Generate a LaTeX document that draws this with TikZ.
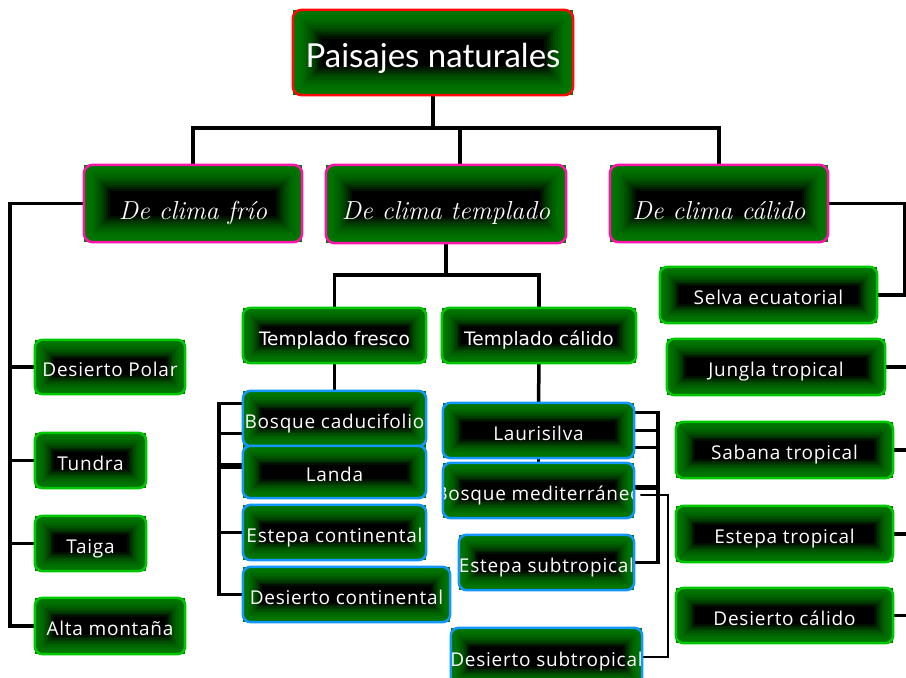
\documentclass[tikz,border=0pt]{standalone}
\usepackage{fontspec}
\usetikzlibrary{calc}
\pgfdeclarelayer{bg}
\pgfsetlayers{bg,main}
\newfontfamily\titlefont{Lato}
\newfontfamily\leaffont[LetterSpace=4.0]{Open Sans}
\newfontfamily\tempfont{DejaVu Sans}
\definecolor{bev}{RGB}{0,118,0}
\definecolor{redb}{RGB}{255,10,10}
\definecolor{pinkb}{RGB}{255,20,170}
\definecolor{greenb}{RGB}{0,200,0}
\definecolor{blueb}{RGB}{20,150,255}
\tikzset{
  glow/.style={path picture={
    \foreach \i in {0,...,13}{
      \pgfmathsetmacro\p{100*(1-(\i/13)^2)}
      \fill[bev!\p!black] ($(path picture bounding box.north west)+(\i*#1,-\i*#1)$)
        rectangle ($(path picture bounding box.south east)+(-\i*#1,\i*#1)$);
    }}},
  boxbase/.style={rectangle, inner sep=0pt, text=white, align=center},
  lvlzero/.style={boxbase, glow=2.2pt, font=\titlefont\fontsize{33}{38}\selectfont, text height=29pt, text depth=0pt},
  lvlone/.style={boxbase, glow=2pt, font=\rmfamily\itshape\fontsize{26}{30}\selectfont, text height=31pt, text depth=0pt},
  lvltwo/.style={boxbase, glow=1.45pt, font=\tempfont\fontsize{18.5}{22}\selectfont, text height=19pt, text depth=0pt},
  leafg/.style={boxbase, glow=1.45pt, font=\leaffont\fontsize{19}{22}\selectfont, text height=19pt, text depth=0pt},
  leafb/.style={boxbase, glow=1.45pt, font=\leaffont\fontsize{19}{22}\selectfont, text height=19pt, text depth=0pt},
  bordlvlzero/.style={draw=redb, line width=2.5pt, rounded corners=9pt},
  bordlvlone/.style={draw=pinkb, line width=2.5pt, rounded corners=9pt},
  bordlvltwo/.style={draw=greenb, line width=2.5pt, rounded corners=8pt},
  bordleafg/.style={draw=greenb, line width=2.5pt, rounded corners=8pt},
  bordleafb/.style={draw=blueb, line width=2.5pt, rounded corners=8pt},
  conn/.style={draw=black, line width=3.5pt},
  thickconn/.style={draw=black, line width=5.5pt},
}
\newcommand\mybx[7]{%
  \node[#2, minimum width={(#5-#3)*1pt}, minimum height={(#6-#4)*1pt}] (#1) at ({(#3+#5)/2},{(#4+#6)/2}) {\makebox[0pt]{#7}};
  \draw[bord#2] (#1.north west) rectangle (#1.south east);
}
\begin{document}
\begin{tikzpicture}[x=1pt,y=-1pt]
\useasboundingbox (0,0) rectangle (906,678);
\begin{pgfonlayer}{bg}
\fill[white] (0,0) rectangle (906,678);
\end{pgfonlayer}
\coordinate (lb) at (10,0);
\coordinate (fb) at (219,0);
\coordinate (mb) at (658,0);
\coordinate (mbb) at (668,0);
\coordinate (rb) at (905,0);
\coordinate (re) at (915,0);
% boxes
\mybx{title}{lvlzero}{293}{10}{573}{95}{Paisajes naturales}
\mybx{frio}{lvlone}{84}{165}{302}{242}{De clima frío}
\mybx{templ}{lvlone}{326}{165}{566}{243}{De clima templado}
\mybx{calido}{lvlone}{610}{165}{828}{242}{De clima cálido}
\mybx{fresco}{lvltwo}{243}{308}{426}{363}{Templado fresco}
\mybx{tcal}{lvltwo}{442}{308}{636}{363}{Templado cálido}
\mybx{dpolar}{leafg}{35}{340}{185}{394}{Desierto Polar}
\mybx{tundra}{leafg}{35}{433}{146}{488}{Tundra}
\mybx{taiga}{leafg}{35}{516}{146}{571}{Taiga}
\mybx{alta}{leafg}{35}{598}{185}{654}{Alta montaña}
\mybx{bcad}{leafb}{243}{391}{426}{446}{Bosque caducifolio}
\mybx{landa}{leafb}{243}{446}{426}{498}{Landa}
\mybx{econt}{leafb}{243}{505}{426}{560}{Estepa continental}
\mybx{dcont}{leafb}{243}{567}{450}{622}{Desierto continental}
\mybx{lauri}{leafb}{443}{403}{634}{458}{Laurisilva}
\mybx{bmed}{leafb}{443}{463}{634}{518}{Bosque mediterráneo}
\mybx{esub}{leafb}{459}{535}{634}{590}{Estepa subtropical}
\mybx{dsub}{leafb}{451}{628}{642}{686}{Desierto subtropical}
\mybx{selva}{leafg}{660}{267}{877}{323}{Selva ecuatorial}
\mybx{jungla}{leafg}{667}{339}{885}{395}{Jungla tropical}
\mybx{sabana}{leafg}{676}{422}{893}{478}{Sabana tropical}
\mybx{etrop}{leafg}{676}{506}{893}{562}{Estepa tropical}
\mybx{dcal}{leafg}{676}{588}{893}{643}{Desierto cálido}
\begin{pgfonlayer}{bg}
% top bus
\coordinate (bus) at ($(title.south)+(0,33)$);
\coordinate (tn) at ([xshift=14pt]templ.north);
\draw[conn] (title.south) -- (bus);
\draw[conn] (frio.north) |- (bus) -| (calido.north);
\draw[conn] (tn) -- (tn |- bus);
% left column
\draw[conn] (frio.west) -| (lb |- alta.west) -- (alta.west);
\draw[conn] (lb |- dpolar.west) -- (dpolar.west);
\draw[conn] (lb |- tundra.west) -- (tundra.west);
\draw[conn] (lb |- taiga.west) -- (taiga.west);
% templado
\coordinate (tb) at ($(templ.south)+(0,32)$);
\draw[conn] (templ.south) -- (tb);
\draw[conn] (fresco.north) |- (tb) -| (tcal.north);
\draw[conn] (fresco.south) -- (bcad.north);
\draw[conn] (tcal.south) -- (lauri.north);
\draw[conn] (lauri.south) -- (bmed.north);
% fresco group
\coordinate (sa) at ([yshift=15pt]bcad.west);
\coordinate (sb) at ([yshift=-15pt]bcad.west);
\coordinate (sc) at ([yshift=6pt]landa.west);
\draw[conn] (sa) -| (fb |- dcont.west) -- (dcont.west);
\draw[conn] (sb) -- (fb |- sb);
\draw[thickconn] (sc) -- (fb |- sc);
\draw[conn] (econt.west) -- (fb |- econt.west);
% calido-templado group
\coordinate (ta) at ([yshift=18pt]lauri.east);
\coordinate (tc) at ([yshift=-17pt]lauri.east);
\coordinate (td) at ([yshift=3pt]bmed.east);
\coordinate (te) at ([yshift=-4.5pt,xshift=6pt]bmed.east);
\draw[conn] (ta) -| (mb |- esub.east) -- (esub.east);
\draw[conn] (lauri.east) -- (mb |- lauri.east);
\draw[conn] (tc) -- (mb |- tc);
\draw[thickconn] (td) -- (mb |- td);
\draw[conn, line width=2.5pt] (te) -| (mbb |- dsub.east) -- (dsub.east);
% right column
\draw[conn] (calido.east) -| (rb |- selva.east) -- (selva.east);
\draw[conn] (jungla.east) -- (re |- jungla.east);
\draw[conn] (sabana.east) -- (re |- sabana.east);
\draw[conn] (etrop.east) -- (re |- etrop.east);
\draw[conn] (dcal.east) -- (re |- dcal.east);
\end{pgfonlayer}
\end{tikzpicture}
\end{document}
